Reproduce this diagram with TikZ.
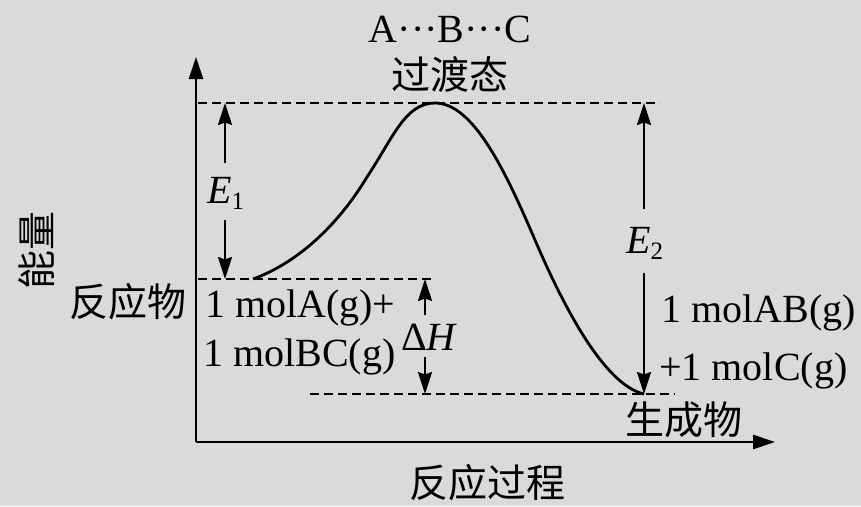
\documentclass[tikz,border=0pt]{standalone}
\usepackage{fontspec}
\setmainfont{Liberation Serif}
\newfontfamily\cjk{Noto Sans CJK SC}
\usetikzlibrary{arrows.meta}
\definecolor{bg}{RGB}{218,218,218}
\newcommand\sbs[1]{\raisebox{-0.15em}{\fontsize{25}{25}\selectfont #1}}
\begin{document}
\begin{tikzpicture}[x=1pt,y=-1pt,
  txt/.style={inner sep=0pt, font=\fontsize{40}{48}\selectfont},
  cn/.style={inner sep=0pt, font=\cjk\fontsize{39}{46}\selectfont},
  axisline/.style={line width=2.6pt, -{Triangle[length=22pt,width=14pt]}},
  dashline/.style={line width=2.2pt, dash pattern=on 9pt off 5pt},
  dimarrow/.style={line width=2.2pt, -{Stealth[length=22pt,width=14pt,inset=2.5pt]}},
  curveline/.style={line width=2.8pt}]
\fill[bg] (0,0) rectangle (861,506);
\useasboundingbox (0,0) rectangle (861,506);
% axes
\coordinate (O) at (196,442);
\coordinate (ytip) at (196,57);
\coordinate (xtip) at (775,442);
\draw[axisline] (O) -- (ytip);
\draw[axisline] (O) -- (xtip);
% levels
\coordinate (tsL) at (198,103);
\coordinate (tsR) at (660,103);
\coordinate (reL) at (198,279);
\coordinate (reR) at (435,279);
\coordinate (prL) at (310,394);
\coordinate (prR) at (675,394);
\draw[dashline] (tsL) -- (tsR);
\draw[dashline] (reL) -- (reR);
\draw[dashline] (prL) -- (prR);
% curve
\coordinate (cs) at (253,279);
\coordinate (c1) at (367,177);
\coordinate (peak) at (435,103);
\coordinate (c2) at (535,240);
\coordinate (ce) at (644,394);
\draw[curveline] (cs) .. controls (300,262) and (340,222) .. (c1)
  .. controls (393,138) and (405,103) .. (peak)
  .. controls (473,103) and (505,170) .. (c2)
  .. controls (565,310) and (605,385) .. (ce);
% texts
\node[txt, anchor=base] (abc) at (450,42) {A···B···C};
\node[cn] (ts) at (450,75) {过渡态};
\node[cn, rotate=90] (energy) at (37,250) {能量};
\node[cn] (react) at (128,302) {反应物};
\node[txt, anchor=base west] (ra) at (205,317) {1 molA(g)+};
\node[txt, anchor=base west] (rb) at (203,366) {1 molBC(g)};
\node[txt, anchor=base west] (pa) at (661,322) {1 molAB(g)};
\node[txt, anchor=base west] (pb) at (659,380) {+1 molC(g)};
\node[cn] (prod) at (684,420) {生成物};
\node[cn] (xlab) at (487,483) {反应过程};
% E1
\node[txt, anchor=base west] (e1) at (207,203) {\textit{E}\sbs{1}};
\coordinate (e1t) at (225,103);
\coordinate (e1b) at (225,279);
\draw[dimarrow] ([yshift=14pt]e1.north -| e1t) -- (e1t);
\draw[dimarrow] ([yshift=-11pt]e1.south -| e1b) -- (e1b);
% E2
\node[txt, anchor=base west] (e2) at (626,253) {\textit{E}\sbs{2}};
\coordinate (e2t) at (644,103);
\coordinate (e2b) at (644,394);
\draw[dimarrow] ([yshift=18pt]e2.north -| e2t) -- (e2t);
\draw[dimarrow] ([yshift=-14pt]e2.south -| e2b) -- (e2b);
% Delta H
\node[txt, anchor=base west] (dh) at (401,350) {Δ\textit{H}};
\coordinate (dht) at (425,279);
\coordinate (dhb) at (425,394);
\draw[dimarrow] ([yshift=8pt]dh.north -| dht) -- (dht);
\draw[dimarrow] ([yshift=-7pt]dh.south -| dhb) -- (dhb);
\end{tikzpicture}
\end{document}
